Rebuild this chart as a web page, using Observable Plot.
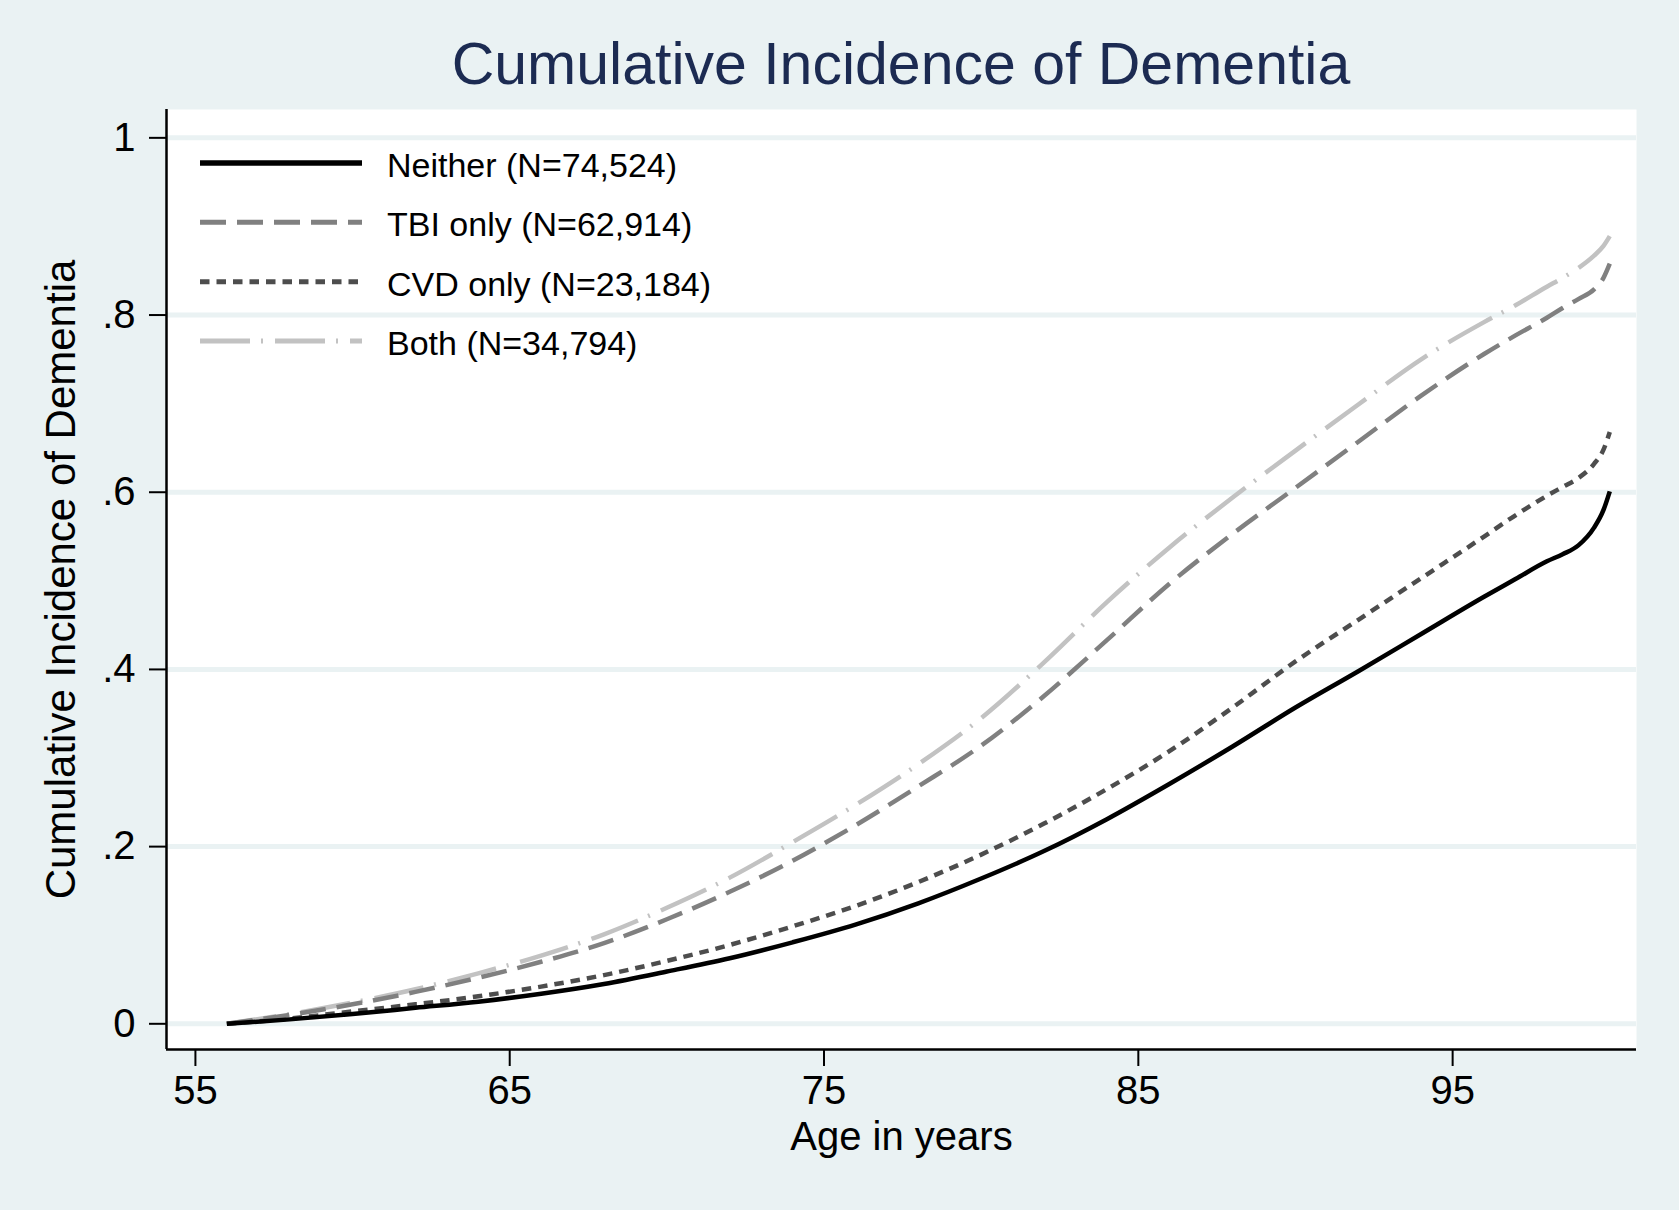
<!DOCTYPE html>
<html>
<head>
<meta charset="utf-8">
<script src="https://cdn.jsdelivr.net/npm/d3@7"></script>
<script src="https://cdn.jsdelivr.net/npm/@observablehq/plot@0.6"></script>
<style>
  html, body { margin: 0; padding: 0; background: #eaf2f3; }
  #wrap { position: relative; width: 1679px; height: 1210px; background: #eaf2f3; overflow: hidden;
          font-family: "Liberation Sans", Arial, Helvetica, sans-serif; }
  #title { box-sizing: border-box; height: 109px; padding-top: 35px; margin-left: 166px; width: 1470px;
           text-align: center; font-size: 59px; line-height: 59px; color: #1c2b52; white-space: nowrap; }
  #chart svg { display: block; }
  #legend { position: absolute; left: 0; top: 109px; pointer-events: none; }
</style>
</head>
<body>
<div id="wrap">
  <div id="title">Cumulative Incidence of Dementia</div>
  <div id="chart"></div>
  <svg id="legend" width="1679" height="300"></svg>
</div>
<script>
// ---- data ----
const ages = [56, 58, 60, 62, 64, 66, 68, 70, 72, 74, 76, 78, 80, 82, 84, 86, 88, 90, 92, 94, 96, 97, 98, 98.5, 99, 99.5, 99.8, 100];
const neither = [0, 0.005, 0.011, 0.018, 0.025, 0.034, 0.045, 0.059, 0.074, 0.092, 0.112, 0.136, 0.164, 0.195, 0.231, 0.271, 0.313, 0.357, 0.398, 0.440, 0.482, 0.502, 0.522, 0.530, 0.540, 0.560, 0.580, 0.601];
const tbiOnly = [0, 0.010, 0.022, 0.036, 0.052, 0.070, 0.091, 0.118, 0.149, 0.184, 0.224, 0.268, 0.314, 0.370, 0.433, 0.497, 0.553, 0.605, 0.657, 0.709, 0.756, 0.777, 0.797, 0.808, 0.818, 0.829, 0.842, 0.858];
const cvdOnly = [0, 0.006, 0.014, 0.022, 0.031, 0.042, 0.055, 0.071, 0.089, 0.110, 0.133, 0.160, 0.191, 0.226, 0.265, 0.308, 0.357, 0.409, 0.456, 0.503, 0.550, 0.574, 0.596, 0.606, 0.616, 0.632, 0.648, 0.668];
const bothVals = [0, 0.011, 0.024, 0.039, 0.057, 0.077, 0.101, 0.131, 0.165, 0.205, 0.247, 0.293, 0.345, 0.408, 0.476, 0.538, 0.594, 0.647, 0.699, 0.750, 0.792, 0.811, 0.832, 0.842, 0.853, 0.867, 0.878, 0.889];
const seriesNames = ["Neither (N=74,524)", "TBI only (N=62,914)", "CVD only (N=23,184)", "Both (N=34,794)"];
const seriesValues = [neither, tbiOnly, cvdOnly, bothVals];
const xTicks = [55, 65, 75, 85, 95];
const yTicks = [0, 0.2, 0.4, 0.6, 0.8, 1];
const yTickLabels = ["0", ".2", ".4", ".6", ".8", "1"];
const xTitle = "Age in years";
const yTitle = "Cumulative Incidence of Dementia";

// ---- styles ----
const styles = [
  {stroke: "#000000", width: 4.5, dash: null},
  {stroke: "#808080", width: 4.5, dash: "26,11"},
  {stroke: "#4d4d4d", width: 4.5, dash: "9.5,7"},
  {stroke: "#c2c2c2", width: 4.5, dash: "50,11,2,12"}
];

const rows = [];
seriesNames.forEach((name, s) => ages.forEach((a, i) => rows.push({age: a, value: seriesValues[s][i], series: name})));

const xDomain = [54.08, 100.85];
const yDomain = [-0.029, 1.032];

const lineMarks = seriesNames.slice().reverse().map(name => {
  const s = seriesNames.indexOf(name);
  const st = styles[s];
  return Plot.line(rows.filter(r => r.series === name), {
    x: "age", y: "value", stroke: st.stroke, strokeWidth: st.width,
    strokeDasharray: st.dash || undefined, curve: "monotone-x", strokeLinecap: "butt"
  });
});

const chart = Plot.plot({
  width: 1679, height: 1101,
  marginTop: 0, marginBottom: 161, marginLeft: 166, marginRight: 43,
  style: {background: "transparent", fontFamily: "'Liberation Sans', Arial, sans-serif", color: "#000", overflow: "visible"},
  x: {domain: xDomain},
  y: {domain: yDomain},
  marks: [
    Plot.frame({fill: "white", stroke: "none"}),
    Plot.ruleY(yTicks, {stroke: "#eaf2f3", strokeWidth: 5}),
    ...lineMarks,
    Plot.ruleX([xDomain[0]], {stroke: "#000", strokeWidth: 2.5}),
    Plot.ruleY([yDomain[0]], {stroke: "#000", strokeWidth: 2.5}),
    Plot.axisX({ticks: xTicks, tickSize: 17, tickPadding: 9, fontSize: 40, label: null, strokeWidth: 2}),
    Plot.axisY({ticks: yTicks, tickFormat: d => yTickLabels[yTicks.indexOf(d)], tickSize: 17, tickPadding: 14, fontSize: 40, label: null, strokeWidth: 2}),
    Plot.text([xTitle], {frameAnchor: "bottom", dy: 100, fontSize: 40, fill: "#000", textAnchor: "middle"}),
    Plot.text([yTitle], {frameAnchor: "left", dx: -105, rotate: -90, fontSize: 42, fill: "#000", textAnchor: "middle", lineAnchor: "middle"})
  ]
});
document.getElementById("chart").appendChild(chart);

// ---- legend (inside the plot region, top-left) ----
const legend = d3.select("#legend");
const legendRowY = d3.scalePoint().domain(seriesNames).range([54, 232]);
seriesNames.forEach((name, s) => {
  const y = legendRowY(name);
  const st = styles[s];
  legend.append("line")
    .attr("x1", 200).attr("x2", 362).attr("y1", y).attr("y2", y)
    .attr("stroke", st.stroke).attr("stroke-width", s === 0 ? 5.5 : 5)
    .attr("stroke-dasharray", st.dash);
  legend.append("text")
    .attr("x", 387).attr("y", y + 14)
    .attr("font-size", 34)
    .attr("font-family", "'Liberation Sans', Arial, sans-serif")
    .attr("fill", "#000")
    .text(name);
});
</script>
</body>
</html>
